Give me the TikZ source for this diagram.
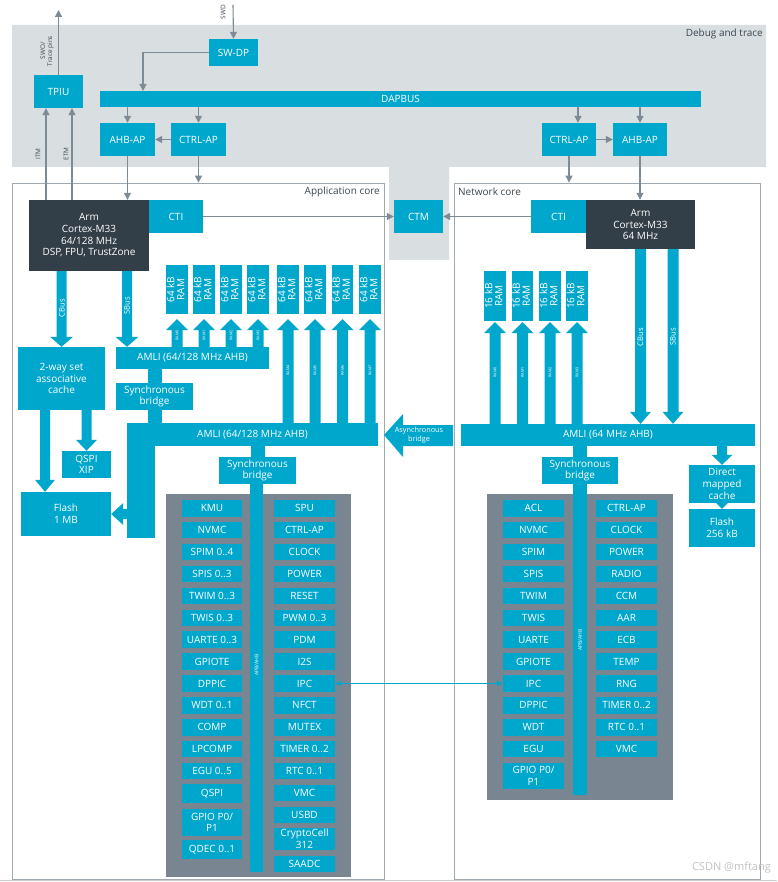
\documentclass[tikz,border=0pt]{standalone}
\usepackage{fontspec}
\setmainfont{Open Sans}
\usepackage{graphicx}
\usetikzlibrary{arrows.meta,calc}
\definecolor{cy}{RGB}{0,167,204}
\definecolor{dk}{RGB}{51,63,72}
\definecolor{dbg}{RGB}{217,223,225}
\definecolor{pg}{RGB}{121,134,145}
\definecolor{lg}{RGB}{125,139,150}
\definecolor{bord}{RGB}{160,168,176}
\definecolor{lbl}{RGB}{60,70,80}
\definecolor{wm}{RGB}{195,195,195}
% box by corners: [opts]{name}{x1}{y1}{x2}{y2}{text}
\newcommand{\bx}[7][]{\node[cbox,#1,minimum width={((#5)-(#3))*1pt},minimum height={((#6)-(#4))*1pt}] (#2) at ({((#3)+(#5))/2},{((#4)+(#6))/2}) {#7};}
\newcommand{\rt}[1]{\rotatebox{90}{\def\arraystretch{0.78}\begin{tabular}{@{}c@{}}#1\end{tabular}}}
% vertical fat arrow: {start}{tip}{shaft half}{head half}{head length}
\newcommand{\fatarrow}[5]{\fill[cy] let \p1=#1, \p2=#2, \n1={(\y2>\y1)*2-1} in
  (\x2-#3pt,\y1) -- (\x2-#3pt,{\y2-(\n1)*#5pt}) -- (\x2-#4pt,{\y2-(\n1)*#5pt}) -- (\x2,\y2)
  -- (\x2+#4pt,{\y2-(\n1)*#5pt}) -- (\x2+#3pt,{\y2-(\n1)*#5pt}) -- (\x2+#3pt,\y1) -- cycle;}
\begin{document}
\begin{tikzpicture}[x=1pt,y=-1pt,
  font=\fontsize{10}{11.7}\selectfont,
  cbox/.style={fill=cy,text=white,inner sep=0pt,align=center},
  cn/.style={draw=lg,line width=1.1pt,-{Triangle[length=7pt,width=7pt]}},
  cyband/.style={draw=cy,line width=#1},
  ramlbl/.style={text=white,font=\fontsize{3.8}{4.2}\selectfont,rotate=90,inner sep=0pt},
  buslbl/.style={text=white,font=\fontsize{7.6}{8.6}\selectfont,rotate=90,inner sep=0pt},
  pinlbl/.style={text=lbl,font=\fontsize{6.4}{7}\selectfont,rotate=90,inner sep=0pt,align=center},
  arealbl/.style={text=lbl,inner sep=0pt}]
\useasboundingbox (0,0) rectangle (777,882);
\fill[white] (0,0) rectangle (777,882);

% ---------- debug and trace region ----------
\fill[dbg] (12,25) -- (766,25) -- (766,167) -- (449,167) -- (449,260) -- (389,260) -- (389,167) -- (12,167) -- cycle;
\node[arealbl,anchor=east] (dbglbl) at (763,34) {Debug and trace};

% ---------- core frames ----------
\bx[fill=none,draw=bord,line width=0.8pt]{appcore}{12}{183}{384}{879}{}
\bx[fill=none,draw=bord,line width=0.8pt]{netcore}{454}{183}{760}{879}{}
\node[arealbl,anchor=east] (applbl) at (380,192) {Application core};
\node[arealbl,anchor=west] (netlbl) at (458,192) {Network core};
\draw[bord!60,line width=0.8pt] (0,880.5) -- (777,880.5);

% ---------- debug blocks ----------
\bx{swdp}{209}{39}{258}{66}{SW-DP}
\bx{dapbus}{100}{91}{701}{107}{DAPBUS}
\bx{tpiu}{34}{75}{83}{108}{TPIU}
\bx{ahbL}{100}{123}{155}{156}{AHB-AP}
\bx{ctrlL}{171}{123}{226}{156}{CTRL-AP}
\bx{ctrlR}{542}{123}{596}{156}{CTRL-AP}
\bx{ahbR}{613}{123}{667}{156}{AHB-AP}

% ---------- cores ----------
\bx[fill=dk]{armA}{29}{200}{149}{271}{Arm\\Cortex-M33\\64/128 MHz\\DSP, FPU, TrustZone}
\bx{ctiA}{149}{200}{203}{233}{CTI}
\bx{ctm}{394}{200}{443}{233}{CTM}
\bx{ctiN}{531}{200}{586}{233}{CTI}
\bx[fill=dk]{armN}{586}{200}{695}{249}{Arm\\Cortex-M33\\64 MHz}

% ---------- debug connectors ----------
\coordinate (swdin) at (233,5);
\coordinate (tracepins) at (58.5,10);
\draw[cn] (swdin) -- (swdp.north);
\node[pinlbl] (swdlbl) at (223,12) {SWD};
\draw[cn] (swdp.west) -| (143,91);
\draw[cn] (tpiu.north) -- (tracepins);
\node[pinlbl] (swolbl) at (47,51) {SWO/\\Trace pins};
\draw[cn] (armA.north -| 46,0) -- (tpiu.south -| 46,0);
\draw[cn] (armA.north -| 72,0) -- (tpiu.south -| 72,0);
\node[pinlbl] (itmlbl) at (38,154) {ITM};
\node[pinlbl] (etmlbl) at (66,154) {ETM};
\draw[cn] (dapbus.south -| ahbL.north) -- (ahbL.north);
\draw[cn] (dapbus.south -| ctrlL.north) -- (ctrlL.north);
\draw[cn] (ctrlL.west) -- (ahbL.east);
\draw[cn] (ahbL.south) -- (armA.north -| ahbL.south);
\draw[cn] (ctrlL.south) -- (appcore.north -| ctrlL.south);
\draw[cn] (dapbus.south -| 578,0) -- (ctrlR.north -| 578,0);
\draw[cn] (dapbus.south -| ahbR.north) -- (ahbR.north);
\draw[cn] (ctrlR.east) -- (ahbR.west);
\draw[cn] (ctrlR.south) -- (netcore.north -| ctrlR.south);
\draw[cn] (ahbR.south) -- (armN.north -| ahbR.south);
\draw[cn] (ctiA.east) -- (ctm.west);
\draw[cn] (ctiN.west) -- (ctm.east);

% ---------- application core memory system ----------
\foreach \xa/\xb [count=\i from 0] in {166/188,193/215,220/242,247/269,277/299,304/326,332/353,359/381}
  {\bx{ra\i}{\xa}{265}{\xb}{314}{\rt{64 kB\\RAM}}}
\bx{amliA}{116}{347}{269}{369}{AMLI (64/128 MHz AHB)}
\bx{cache}{18}{347}{105}{410}{2-way set\\associative\\cache}
\bx{syncA}{116}{383}{193}{410}{Synchronous\\bridge}
\bx{amliB}{127}{423}{378}{446}{AMLI (64/128 MHz AHB)}
\bx{qspix}{62}{451}{111}{478}{QSPI\\XIP}
\bx{flashA}{21}{492}{111}{536}{Flash\\1 MB}
\bx{syncB}{219}{457}{296}{484}{Synchronous\\bridge}

\fatarrow{(armA.south -| cache.north)}{(cache.north)}{5}{11.5}{10}
\fatarrow{(armA.south -| 127,0)}{(amliA.north -| 127,0)}{5}{11.5}{10}
\node[buslbl] (cbusA) at (62,308) {CBus};
\node[buslbl] (sbusA) at (127,306) {SBus};
\foreach \i in {0,1,2,3}{
  \fatarrow{(amliA.north -| ra\i.south)}{($(ra\i.south)+(0,5)$)}{5.5}{11}{11}
  \node[ramlbl] at ($(ra\i.south)+(0,21)$) {RAM\i};}
\foreach \i in {4,5,6,7}{
  \fatarrow{(amliB.north -| ra\i.south)}{($(ra\i.south)+(0,5)$)}{5.5}{11}{11}
  \node[ramlbl] at ($(ra\i.south)+(0,56)$) {RAM\i};}
\draw[cyband=14pt] (amliA.south -| syncA.north) -- (syncA.north);
\draw[cyband=14pt] (syncA.south) -- (amliB.north -| syncA.south);
\fatarrow{(cache.south -| 45,0)}{(flashA.north -| 45,0)}{5}{10}{12}
\fatarrow{(cache.south -| qspix.north)}{(qspix.north)}{5}{10.5}{11}
\fill[cy] (amliB.north west) rectangle (155,538);
\fill[cy] (flashA.east) -- ++(12,-11) -- ++(0,6) -- ++(5,0) -- ++(0,10) -- ++(-5,0) -- ++(0,6) -- cycle;
\draw[cyband=14pt] (amliB.south -| syncB.north) -- (syncB.north);

% async bridge
\fill[cy] (384,435) -- (403,414) -- (403,425) -- (453,425) -- (453,446) -- (403,446) -- (403,457) -- cycle;
\node[text=white,font=\fontsize{7.3}{8.6}\selectfont,align=center,inner sep=0pt] (asyncbr) at (419,435) {Asynchronous\\bridge};

% ---------- application peripherals ----------
\fill[pg] (166,494) rectangle (351,877);
\coordinate (apbA) at (256.5,872);
\draw[cyband=13pt] (syncB.south -| apbA) -- (apbA);
\node[ramlbl,font=\fontsize{5}{6}\selectfont] (apblblA) at (256.5,665) {APB/AHB};
\foreach \t [count=\i from 0] in {KMU,NVMC,SPIM 0..4,SPIS 0..3,TWIM 0..3,TWIS 0..3,UARTE 0..3,GPIOTE,DPPIC,WDT 0..1,COMP,LPCOMP,EGU 0..5}
  {\bx{pa\i}{182}{500+21.9*\i}{242}{516.5+21.9*\i}{\t}}
\bx{pa13}{182}{784}{242}{803}{QSPI}
\bx{pa14}{182}{809}{242}{836}{GPIO P0/\\P1}
\bx{pa15}{182}{840}{242}{859}{QDEC 0..1}
\foreach \t [count=\i from 0] in {SPU,CTRL-AP,CLOCK,POWER,RESET,PWM 0..3,PDM,I2S,IPC,NFCT,MUTEX,TIMER 0..2,RTC 0..1,VMC,USBD}
  {\bx{pb\i}{274}{500+21.9*\i}{335}{516.5+21.9*\i}{\t}}
\bx{pb15}{274}{828}{335}{850}{CryptoCell\\312}
\bx{pb16}{274}{856}{335}{872}{SAADC}

% ---------- network core memory system ----------
\foreach \xa/\xb [count=\i from 0] in {484/506,512/533,539/561,566/588}
  {\bx{rn\i}{\xa}{271}{\xb}{321}{\rt{16 kB\\RAM}}}
\bx{amliN}{461}{424}{755}{446}{AMLI (64 MHz AHB)}
\bx{syncN}{542}{457}{618}{484}{Synchronous\\bridge}
\bx{dmc}{689}{465}{755}{503}{Direct\\mapped\\cache}
\bx{flashN}{689}{509}{755}{547}{Flash\\256 kB}
\foreach \i in {0,1,2,3}{
  \fatarrow{(amliN.north -| rn\i.south)}{($(rn\i.south)+(0,1)$)}{5.5}{11}{11}
  \node[ramlbl] at ($(rn\i.south)+(0,51)$) {RAM\i};}
\fatarrow{(armN.south -| 640.5,0)}{(amliN.north -| 640.5,0)}{5.5}{10.5}{12}
\fatarrow{(armN.south -| 673,0)}{(amliN.north -| 673,0)}{5.5}{10.5}{12}
\node[buslbl] (cbusN) at (640.5,337) {CBus};
\node[buslbl] (sbusN) at (673,337) {SBus};
\draw[cyband=14pt] (amliN.south -| syncN.north) -- (syncN.north);
\fatarrow{(amliN.south -| dmc.north)}{(dmc.north)}{5}{10.5}{10}
\fatarrow{(dmc.south)}{(flashN.north)}{0}{6}{6}

% ---------- network peripherals ----------
\fill[pg] (487,494) rectangle (673,800);
\coordinate (apbN) at (580,795);
\draw[cyband=14pt] (syncN.south -| apbN) -- (apbN);
\node[ramlbl,font=\fontsize{5}{6}\selectfont] (apblblN) at (580,640) {APB/AHB};
\foreach \t [count=\i from 0] in {ACL,NVMC,SPIM,SPIS,TWIM,TWIS,UARTE,GPIOTE,IPC,DPPIC,WDT,EGU}
  {\bx{na\i}{503}{500+21.9*\i}{564}{516.5+21.9*\i}{\t}}
\bx{na12}{503}{763}{564}{789}{GPIO P0/\\P1}
\foreach \t [count=\i from 0] in {CTRL-AP,CLOCK,POWER,RADIO,CCM,AAR,ECB,TEMP,RNG,TIMER 0..2,RTC 0..1,VMC}
  {\bx{nb\i}{596}{500+21.9*\i}{657}{516.5+21.9*\i}{\t}}

% IPC link
\draw[cy,line width=0.9pt,{Triangle[length=6pt,width=5pt]}-{Triangle[length=6pt,width=5pt]}] (pb8.east) -- (na8.west);

% watermark
\node[text=wm,font=\fontsize{11}{12}\selectfont,anchor=east,inner sep=0pt] (wmark) at (771,868) {CSDN @mftang};
\end{tikzpicture}
\end{document}
